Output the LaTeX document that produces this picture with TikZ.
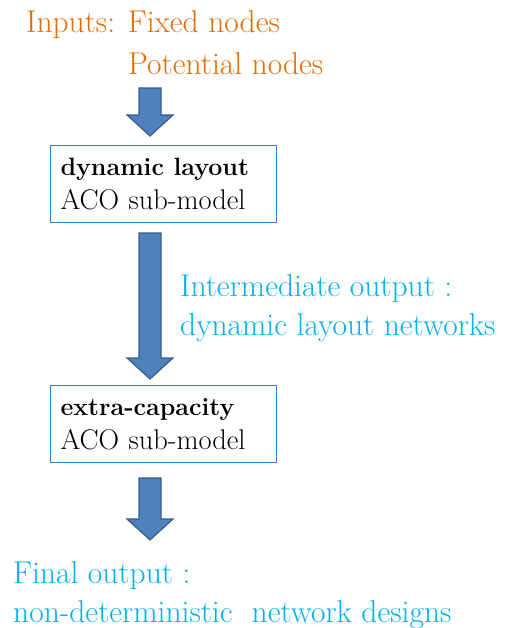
\documentclass[tikz,border=0pt]{standalone}
\usepackage{fontspec}
\usetikzlibrary{calc}

\definecolor{inorange}{HTML}{E46C0A}
\definecolor{outblue}{HTML}{00B0F0}
\definecolor{boxblue}{HTML}{2E86D0}
\definecolor{arrowfill}{HTML}{4F81BD}
\definecolor{arrowline}{HTML}{385D8A}

\tikzset{
  intext/.style={anchor=base west, inner sep=0pt, text=inorange, font=\fontsize{31.5}{31.5}\selectfont},
  outtext/.style={anchor=base west, inner sep=0pt, text=outblue, font=\fontsize{31.5}{31.5}\selectfont},
  modelbox/.style={draw=boxblue, line width=1pt, anchor=north west, minimum width=226pt, minimum height=77pt,
    text width=206pt, inner xsep=10pt, align=left, font=\fontsize{28.5}{34}\selectfont},
  bigarrow/.style={fill=arrowfill, draw=arrowline, line width=1.2pt, line join=miter}
}

% bold title line inside a box
\newcommand{\boxtitle}[1]{{\fontsize{25}{34}\selectfont\bfseries #1}}

% block arrow from a start point down to a tip
\newcommand{\blockarrow}[2]{%
  \filldraw[bigarrow] let \p1=(#1), \p2=(#2) in
    (\x1-11pt,\y1) -- (\x1+11pt,\y1) -- (\x1+11pt,\y2+21pt) -- (\x1+23pt,\y2+21pt)
    -- (\x1,\y2) -- (\x1-23pt,\y2+21pt) -- (\x1-11pt,\y2+21pt) -- cycle;}

\begin{document}
\begin{tikzpicture}[x=1pt, y=-1pt]
    \useasboundingbox (0,0) rectangle (504,628);

    % Inputs
    \node[intext] (inputs) at (26, 33) {Inputs: Fixed nodes};
    \node[intext] (potential) at (128, 75) {Potential nodes};

    % Sub-models
    \node[modelbox] (dynbox) at (50, 145) {\boxtitle{dynamic layout}\\ACO sub-model};
    \node[modelbox] (extrabox) at (50, 385) {\boxtitle{extra-capacity}\\ACO sub-model};

    % Outputs
    \node[outtext] (interA) at (180, 296) {Intermediate output :};
    \node[outtext] (interB) at (180, 335) {dynamic layout networks};
    \node[outtext] (finalA) at (13, 583) {Final output :};
    \node[outtext] (finalB) at (13, 622) {non-deterministic\ \ network designs};

    % Arrows
    \coordinate (a1s) at ($(potential.base west)+(22,13)$);
    \coordinate (a1e) at ($(dynbox.north west)+(100,-9)$);
    \coordinate (a2s) at ($(dynbox.south west)+(100,10)$);
    \coordinate (a2e) at ($(extrabox.north west)+(100,-6)$);
    \coordinate (a3s) at ($(extrabox.south west)+(100,15)$);
    \coordinate (a3e) at ($(extrabox.south west)+(100,77)$);
    \blockarrow{a1s}{a1e}
    \blockarrow{a2s}{a2e}
    \blockarrow{a3s}{a3e}
\end{tikzpicture}
\end{document}
